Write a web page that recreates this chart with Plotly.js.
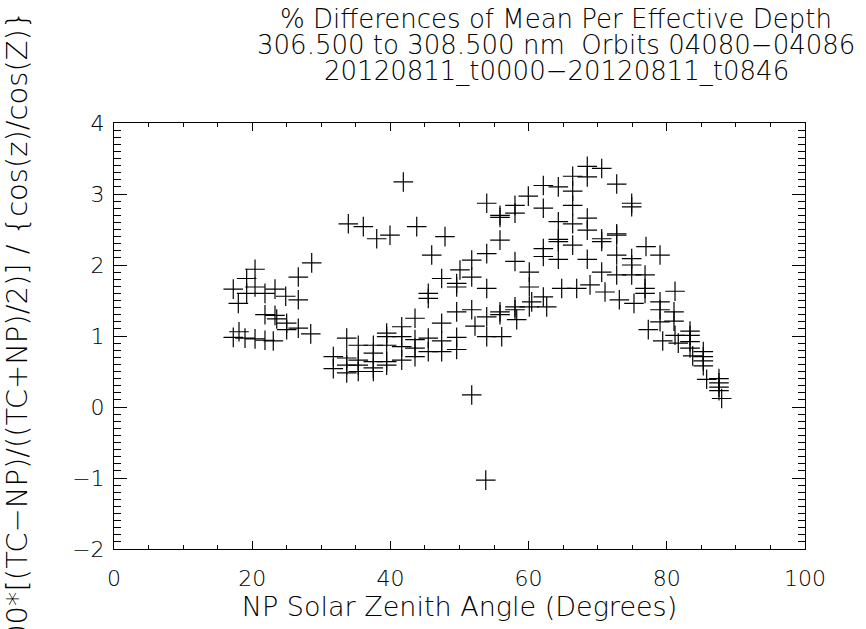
<!DOCTYPE html>
<html>
<head>
<meta charset="utf-8">
<script src="https://cdn.plot.ly/plotly-3.0.1.min.js"></script>
<style>
  html, body { margin: 0; padding: 0; background: #ffffff; }
  #chart { width: 866px; height: 629px; }
</style>
</head>
<body>
<div id="chart"></div>
<script>
// NP solar zenith angle (degrees)
const sza = [
  17.26, 17.99, 19.20, 19.20, 20.41, 20.41, 21.85, 23.30, 24.85, 26.67, 26.67, 28.61,
  21.85, 23.30, 23.55, 24.99, 24.99, 26.67, 28.47,
  17.26, 18.09, 18.96, 20.41, 21.85, 23.05,
  33.91, 36.08, 38.02, 39.94, 41.87, 43.81, 45.98, 47.90,
  31.74, 31.74,
  33.68, 33.68, 33.68, 33.68,
  35.35, 35.35, 35.35, 35.35,
  37.53, 37.53, 37.53, 37.53, 37.53,
  39.46, 39.46, 39.46, 39.46, 39.46,
  41.64, 41.64, 41.64, 41.64,
  43.56, 43.56, 43.56, 43.56,
  45.48, 45.48, 45.48, 45.48,
  47.42, 47.42, 47.42, 47.42,
  49.59, 49.59, 49.59, 49.59, 49.59,
  50.07,
  51.77, 51.77, 51.77, 51.77,
  52.24,
  53.94, 53.94, 53.94, 53.94, 53.94, 53.80,
  55.86, 55.86, 55.86, 55.86, 55.86, 56.11,
  58.03, 58.03, 58.03, 58.03, 58.03, 58.28,
  59.96, 60.10, 60.10, 60.10, 60.45,
  62.13, 62.13, 62.13, 62.13, 62.13, 62.62,
  64.30, 64.30, 64.30, 64.30, 64.30, 64.79,
  66.38, 66.38, 66.38, 66.38, 66.38, 66.96,
  68.49, 68.49, 68.49, 68.49, 68.49, 68.89,
  70.58, 70.58, 70.58, 70.58, 71.06,
  72.75, 72.75, 72.75, 72.75, 72.75, 73.13,
  74.92, 74.92, 74.92, 74.92, 74.92, 75.25,
  76.99, 76.85, 76.85, 76.85, 77.32,
  79.02, 79.02, 79.02, 79.02, 79.41,
  81.19, 81.04, 81.04, 81.19, 81.66,
  83.36, 83.36, 83.36, 83.36, 83.75,
  85.28, 85.28, 85.28, 85.28, 85.77,
  87.55, 87.55, 87.55, 87.55, 87.94
];
// 100*[(TC-NP)/((TC+NP)/2)] / {cos(z)/cos(Z)}
const pctDiff = [
  1.66, 1.46, 1.81, 1.60, 1.94, 1.69, 1.60, 1.66, 1.56, 1.51, 1.83, 2.03,
  1.30, 1.29, 1.24, 1.18, 1.09, 1.11, 1.03,
  0.98, 1.06, 0.97, 0.96, 0.94, 0.93,
  2.58, 2.54, 2.37, 2.42, 3.17, 2.54, 2.14, 2.40,
  0.71, 0.54,
  0.97, 0.69, 0.59, 0.48,
  0.87, 0.66, 0.59, 0.50,
  0.87, 0.76, 0.64, 0.55, 0.50,
  1.04, 0.99, 0.87, 0.64, 0.59,
  1.13, 0.99, 0.85, 0.66,
  1.25, 0.95, 0.83, 0.71,
  1.60, 1.53, 0.97, 0.78,
  1.81, 1.18, 0.93, 0.78,
  1.74, 1.69, 1.34, 0.98, 0.81,
  1.93,
  2.07, 1.83, 1.37, 0.17,
  1.14,
  2.87, 2.16, 1.67, 1.27, 0.99, -1.03,
  2.70, 2.67, 2.35, 1.34, 1.30, 0.99,
  2.84, 2.73, 2.05, 1.41, 1.37, 1.23,
  2.97, 1.90, 1.69, 1.41, 1.48,
  3.12, 2.80, 2.23, 2.12, 1.55, 1.41,
  3.10, 2.61, 2.36, 2.33, 2.08, 1.67,
  3.25, 3.04, 2.84, 2.58, 2.28, 1.67,
  3.39, 3.24, 2.66, 2.49, 2.08, 1.72,
  3.36, 2.37, 2.33, 1.90, 1.62,
  3.14, 2.44, 2.42, 2.14, 1.86, 1.51,
  2.87, 2.82, 2.09, 2.00, 1.86, 1.46,
  2.26, 1.86, 1.67, 1.60, 1.09,
  2.14, 1.48, 1.37, 1.20, 0.93,
  1.63, 1.34, 1.21, 1.01, 0.90,
  1.07, 1.01, 0.92, 0.83, 0.72,
  0.78, 0.71, 0.65, 0.58, 0.39,
  0.40, 0.34, 0.28, 0.23, 0.12
];

const titleLines = [
  "% Differences of Mean Per Effective Depth",
  "306.500 to 308.500 nm\u00a0 Orbits 04080\u221204086",
  "20120811_t0000\u221220120811_t0846"
];
const xTitle = "NP Solar Zenith Angle (Degrees)";
const yTitle = "100*[(TC\u2212NP)/((TC+NP)/2)] / {cos(z)/cos(Z)}";

const FONT = '"DejaVu Sans", "Liberation Sans", sans-serif';
const titleFont = {family: FONT, size: 26, color: '#000000', weight: 300};
const tickFont = {family: FONT, size: 22, color: '#000000', weight: 300};
const xTitleFont = {family: FONT, size: 27, color: '#000000', weight: 300};
const yTitleFont = {family: FONT, size: 29, color: '#000000', weight: 300};

const trace = {
  type: 'scatter',
  mode: 'markers',
  x: sza,
  y: pctDiff,
  marker: {symbol: 'cross-thin', size: 14, color: '#000000', line: {color: '#000000', width: 1.2}},
  hoverinfo: 'x+y'
};

const axisCommon = {
  showgrid: false,
  zeroline: false,
  showline: true,
  linecolor: '#000000',
  linewidth: 1,
  mirror: 'allticks',
  ticks: 'inside',
  tickcolor: '#000000',
  tickwidth: 1,
  tickfont: tickFont
};

const TITLE_X = 0.6397;

const layout = {
  width: 866,
  height: 629,
  paper_bgcolor: '#ffffff',
  plot_bgcolor: '#ffffff',
  showlegend: false,
  margin: {l: 114, r: 61, t: 123, b: 80, pad: 0},
  font: tickFont,
  title: {
    text: titleLines[0],
    font: titleFont,
    xref: 'paper', x: TITLE_X, xanchor: 'center',
    yref: 'container', y: 1 - 19 / 629, yanchor: 'middle'
  },
  annotations: [
    {text: titleLines[1], xref: 'paper', yref: 'paper', x: TITLE_X, y: (549 - 45) / 426,
     xanchor: 'center', yanchor: 'middle', showarrow: false, font: titleFont},
    {text: titleLines[2], xref: 'paper', yref: 'paper', x: TITLE_X, y: (549 - 71) / 426,
     xanchor: 'center', yanchor: 'middle', showarrow: false, font: titleFont}
  ],
  xaxis: Object.assign({}, axisCommon, {
    range: [0, 100],
    dtick: 20,
    tick0: 0,
    ticklen: 8,
    ticklabelstandoff: 10,
    minor: {dtick: 5, ticklen: 4, ticks: 'inside', tickcolor: '#000000', tickwidth: 1, showgrid: false},
    title: {text: xTitle, font: xTitleFont, standoff: 1}
  }),
  yaxis: Object.assign({}, axisCommon, {
    range: [-2, 4],
    dtick: 1,
    tick0: 0,
    ticklen: 13,
    ticklabelstandoff: 4,
    minor: {dtick: 0.1, ticklen: 7, ticks: 'inside', tickcolor: '#000000', tickwidth: 1, showgrid: false},
    title: {text: yTitle, font: yTitleFont, standoff: 46}
  })
};

Plotly.newPlot('chart', [trace], layout, {staticPlot: true, displayModeBar: false});
</script>
</body>
</html>
